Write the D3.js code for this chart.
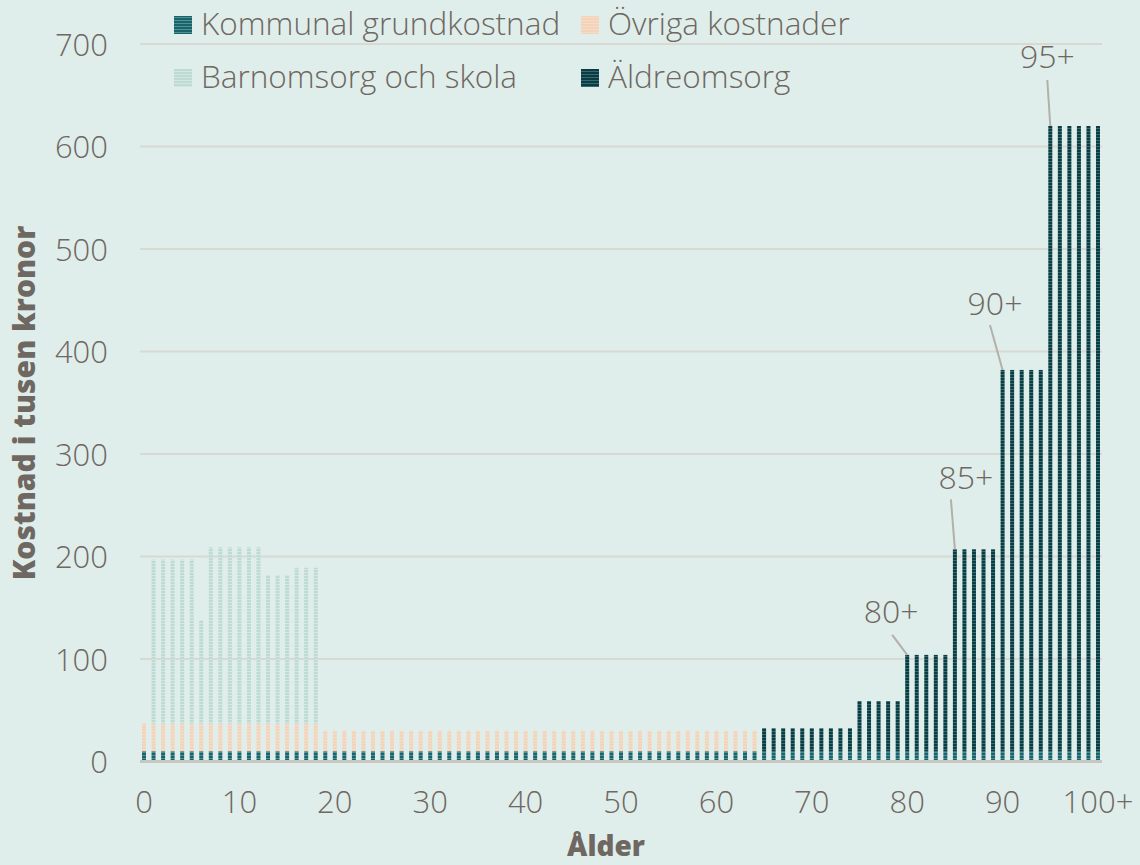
<!DOCTYPE html>
<html><head><meta charset="utf-8">
<script src="https://cdn.jsdelivr.net/npm/d3@7"></script>
<style>
html,body{margin:0;padding:0;background:#dfeeea;}
svg{display:block;}
text{font-family:"Open Sans",sans-serif;fill:#6f6761;}
</style></head><body>
<svg id="c" width="1140" height="865"></svg>
<script>
// ---- data ----
const ages = ["0","1","2","3","4","5","6","7","8","9",
"10","11","12","13","14","15","16","17","18","19",
"20","21","22","23","24","25","26","27","28","29",
"30","31","32","33","34","35","36","37","38","39",
"40","41","42","43","44","45","46","47","48","49",
"50","51","52","53","54","55","56","57","58","59",
"60","61","62","63","64","65","66","67","68","69",
"70","71","72","73","74","75","76","77","78","79",
"80","81","82","83","84","85","86","87","88","89",
"90","91","92","93","94","95","96","97","98","99","100+"];
const kommunal = [10,10,10,10,10,10,10,10,10,10,
10,10,10,10,10,10,10,10,10,10,
10,10,10,10,10,10,10,10,10,10,
10,10,10,10,10,10,10,10,10,10,
10,10,10,10,10,10,10,10,10,10,
10,10,10,10,10,10,10,10,10,10,
10,10,10,10,10,10,10,10,10,10,
10,10,10,10,10,10,10,10,10,10,
10,10,10,10,10,10,10,10,10,10,
10,10,10,10,10,10,10,10,10,10,10];
const ovriga = [27,27,27,27,27,27,27,27,27,27,
27,27,27,27,27,27,27,27,27,20,
20,20,20,20,20,20,20,20,20,20,
20,20,20,20,20,20,20,20,20,20,
20,20,20,20,20,20,20,20,20,20,
20,20,20,20,20,20,20,20,20,20,
20,20,20,20,20,0,0,0,0,0,
0,0,0,0,0,0,0,0,0,0,
0,0,0,0,0,0,0,0,0,0,
0,0,0,0,0,0,0,0,0,0,0];
const barnomsorg = [0,160,160,160,160,160,101,172,172,172,
172,172,172,145,145,145,152,152,152,0,
0,0,0,0,0,0,0,0,0,0,
0,0,0,0,0,0,0,0,0,0,
0,0,0,0,0,0,0,0,0,0,
0,0,0,0,0,0,0,0,0,0,
0,0,0,0,0,0,0,0,0,0,
0,0,0,0,0,0,0,0,0,0,
0,0,0,0,0,0,0,0,0,0,
0,0,0,0,0,0,0,0,0,0,0];
const aldreomsorg = [0,0,0,0,0,0,0,0,0,0,
0,0,0,0,0,0,0,0,0,0,
0,0,0,0,0,0,0,0,0,0,
0,0,0,0,0,0,0,0,0,0,
0,0,0,0,0,0,0,0,0,0,
0,0,0,0,0,0,0,0,0,0,
0,0,0,0,0,22.5,22.5,22.5,22.5,22.5,
22.5,22.5,22.5,22.5,22.5,49,49,49,49,49,
94,94,94,94,94,197,197,197,197,197,
372,372,372,372,372,610,610,610,610,610,610];
const seriesNames = ["Kommunal grundkostnad","Övriga kostnader","Barnomsorg och skola","Äldreomsorg"];
const yTicks = [0,100,200,300,400,500,600,700];
const xTickLabels = ["0","10","20","30","40","50","60","70","80","90","100+"];
const annoLabels = ["80+","85+","90+","95+"];
const annoAges = ["80","85","90","95"];

// ---- styles ----
const fills = [
  {main:"#1d6169", alt:"#4a9398"},
  {main:"#f6d3b7", alt:"#efddcf"},
  {main:"#bddbd3", alt:"#d2e7e1"},
  {main:"#0e3a41", alt:"#2f6f74"}
];
const FONT = "'Open Sans',sans-serif";
const LIGHT = 300;
const TXT = "#6c645e";

const svg = d3.select("#c");
const defs = svg.append("defs");
fills.forEach((f,i)=>{
  const p = defs.append("pattern").attr("id","p"+i)
    .attr("patternUnits","userSpaceOnUse").attr("width",6).attr("height",3);
  p.append("rect").attr("width",6).attr("height",3).attr("fill",f.main);
  p.append("rect").attr("y",2).attr("width",6).attr("height",1).attr("fill",f.alt);
});

const x = d3.scaleBand().domain(ages).range([140,1102]).paddingInner(0.58).paddingOuter(0.21);
const y = d3.scaleLinear().domain([0,700]).range([761.5,44]);

// gridlines
svg.append("g").selectAll("line").data(yTicks.filter(d=>d>0)).join("line")
  .attr("x1",140).attr("x2",1102).attr("y1",d=>y(d)).attr("y2",d=>y(d))
  .attr("stroke","#d9d8d3").attr("stroke-width",2);

// stacked bars
const table = ages.map((a,i)=>({age:a, k:kommunal[i], o:ovriga[i], b:barnomsorg[i], e:aldreomsorg[i]}));
const stack = d3.stack().keys(["k","o","b","e"])(table);
svg.append("g").selectAll("g").data(stack).join("g")
  .attr("fill",(d,i)=>"url(#p"+i+")")
  .selectAll("rect").data(d=>d.filter(s=>s[1]-s[0]>0)).join("rect")
  .attr("x",d=>x(d.data.age)).attr("width",x.bandwidth())
  .attr("y",d=>y(d[1])).attr("height",d=>y(d[0])-y(d[1]));

// baseline
svg.append("line").attr("x1",140).attr("x2",1102).attr("y1",y(0)).attr("y2",y(0))
  .attr("stroke","#c8c6c2").attr("stroke-width",3);

// y axis labels
const yAxis = d3.axisLeft(y).tickValues(yTicks).tickSize(0).tickPadding(0);
const gy = svg.append("g").attr("transform","translate(108,0)").call(yAxis);
gy.select(".domain").remove();
gy.selectAll("text").attr("font-size",31).attr("fill",TXT).attr("font-weight",LIGHT)
  .style("font-family",FONT).attr("dy","0.36em");

// x axis labels
const xAxis = d3.axisBottom(x).tickValues(xTickLabels).tickSize(0).tickPadding(0);
const gx = svg.append("g").attr("transform","translate(0,813)").call(xAxis);
gx.select(".domain").remove();
gx.selectAll("text").attr("font-size",31).attr("fill",TXT).attr("font-weight",LIGHT)
  .style("font-family",FONT).attr("dy",0).attr("y",0);

// axis titles
svg.append("text").attr("transform","translate(35,403) rotate(-90)")
  .attr("text-anchor","middle").attr("font-size",30).attr("font-weight",800)
  .attr("fill","#726a64").text("Kostnad i tusen kronor");
svg.append("text").attr("x",606).attr("y",856)
  .attr("text-anchor","middle").attr("font-size",28).attr("font-weight",800)
  .attr("fill","#726a64").text("Ålder");

// legend
const legPos = [[174,35],[581,35],[174,88],[581,88]];
const lg = svg.append("g");
seriesNames.forEach((n,i)=>{
  const [lx,ly] = legPos[i];
  lg.append("rect").attr("x",lx).attr("y",ly-19).attr("width",18).attr("height",18)
    .attr("fill","url(#p"+i+")");
  lg.append("text").attr("x",lx+27).attr("y",ly).attr("font-size",31.5).attr("font-weight",LIGHT)
    .attr("fill",TXT).text(n);
});

// annotations: [line dx, line dy, text dx, text dy] relative to the bar top / line start
const annoOffsets = [[-15,-20,-1,-12],[-4,-50,15,-10],[-12.6,-45,5,-10],[-3,-46,0,-12]];
annoLabels.forEach((lab,i)=>{
  const a = annoAges[i];
  const idx = ages.indexOf(a);
  const total = kommunal[idx]+ovriga[idx]+barnomsorg[idx]+aldreomsorg[idx];
  const bx = x(a)+x.bandwidth()/2, by = y(total);
  const [dx,dy,tdx,tdy] = annoOffsets[i];
  svg.append("line").attr("x1",bx+dx).attr("y1",by+dy).attr("x2",bx).attr("y2",by)
    .attr("stroke","#b5afaa").attr("stroke-width",2);
  svg.append("text").attr("x",bx+dx+tdx).attr("y",by+dy+tdy).attr("text-anchor","middle")
    .attr("font-size",32).attr("font-weight",LIGHT).attr("fill","#625b55").text(lab);
});
</script>
</body></html>
